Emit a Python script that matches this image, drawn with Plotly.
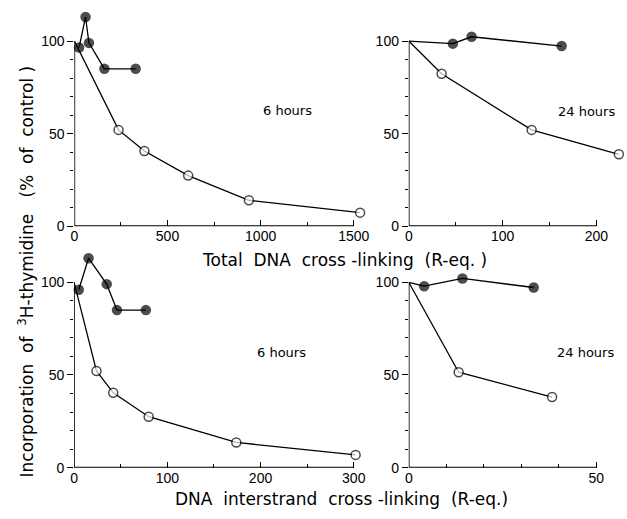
import plotly.graph_objects as go

# ---- data ----
# top-left: total cross-linking, 6 hours
tl_closed_x = [25, 60, 78, 161, 329]
tl_closed_y = [96.5, 113, 99, 85, 85]
tl_open_x = [0, 237, 376, 611, 937, 1534]
tl_open_y = [100, 52, 40.6, 27.3, 14, 7.3]
# top-right: total cross-linking, 24 hours
tr_closed_x = [0, 47, 67, 163]
tr_closed_y = [100, 98.6, 102.3, 97.3]
tr_open_x = [0, 35, 131, 224]
tr_open_y = [100, 82.3, 52, 38.8]
# bottom-left: interstrand cross-linking, 6 hours
bl_closed_x = [5, 15.5, 35, 46, 77]
bl_closed_y = [96, 113, 99, 85, 85]
bl_open_x = [0, 24, 42, 80, 174, 302]
bl_open_y = [100, 52.2, 40.4, 27.5, 13.6, 6.9]
# bottom-right: interstrand cross-linking, 24 hours
br_closed_x = [0, 4.1, 14.3, 33.3]
br_closed_y = [100, 97.9, 102.1, 97.2]
br_open_x = [0, 13.3, 38.2]
br_open_y = [100, 51.5, 38.1]

panel_labels = ["6 hours", "24 hours", "6 hours", "24 hours"]
x_major = [[0, 500, 1000, 1500], [0, 100, 200], [0, 100, 200, 300], [0, 50]]
x_minor = [[250, 750, 1250], [50, 150], [50, 150, 250], [10, 20, 30, 40]]
x_axis_end = [1500, 200, 300, 50]
y_major = [0, 50, 100]
y_minor = [10, 20, 30, 40, 60, 70, 80, 90]

S = "\u00a0"
xtitle_top = f"Total{S*2}DNA{S*2}cross{S}-linking{S*2}(R-eq.{S})"
xtitle_bot = f"DNA{S*2}interstrand{S*2}cross{S}-linking{S*2}(R-eq.)"
ytitle = (f"Incorporation{S*2}of{S*2}<sup>3</sup>H-thymidine"
          f"{S*3}(%{S*2}of{S*2}control{S})")

W, H = 627, 519
FONT = "Liberation Sans, Arial, sans-serif"
TFONT = "DejaVu Sans, sans-serif"

panels = [
    (tl_closed_x, tl_closed_y, tl_open_x, tl_open_y),
    (tr_closed_x, tr_closed_y, tr_open_x, tr_open_y),
    (bl_closed_x, bl_closed_y, bl_open_x, bl_open_y),
    (br_closed_x, br_closed_y, br_open_x, br_open_y),
]
xranges = [[0, 1560], [0, 228], [0, 310], [0, 55]]
xdomains = [[71.3 / W, 365.6 / W], [410 / W, 626.6 / W],
            [71.0 / W, 363.7 / W], [410 / W, 619 / W]]
ydomains = [[(H - 229.7) / H, (H - 11.6) / H], [(H - 229.7) / H, (H - 11.6) / H],
            [(H - 475) / H, (H - 256.6) / H], [(H - 475) / H, (H - 256.6) / H]]
label_pos = [(1142, 62.6), (190, 62), (223, 62.3), (47, 62)]

fig = go.Figure()
shapes = []
annotations = []
for i, (cx, cy, ox, oy) in enumerate(panels):
    n = i + 1
    xa = "x" if n == 1 else f"x{n}"
    ya = "y" if n == 1 else f"y{n}"
    osz = [0 if (ox[k] == 0) else 9 for k in range(len(ox))]
    csz = [0 if (cx[k] == 0) else 10.5 for k in range(len(cx))]
    fig.add_trace(go.Scatter(
        x=ox, y=oy, xaxis=xa, yaxis=ya, mode="lines+markers",
        line=dict(color="black", width=1.3),
        marker=dict(symbol="circle", size=osz, color="white",
                    line=dict(color="black", width=1.5)),
        cliponaxis=False, showlegend=False))
    fig.add_trace(go.Scatter(
        x=cx, y=cy, xaxis=xa, yaxis=ya, mode="lines+markers",
        line=dict(color="black", width=1.3),
        marker=dict(symbol="circle", size=csz, color="black",
                    line=dict(color="black", width=0)),
        cliponaxis=False, showlegend=False))
    xkey = "xaxis" if n == 1 else f"xaxis{n}"
    ykey = "yaxis" if n == 1 else f"yaxis{n}"
    fig.update_layout({
        xkey: dict(domain=xdomains[i], range=xranges[i], anchor=ya,
                   showgrid=False, zeroline=False, showline=False,
                   tickmode="array", tickvals=x_major[i],
                   ticks="inside", ticklen=6, tickwidth=1.3, tickcolor="black",
                   minor=dict(tickmode="array", tickvals=x_minor[i],
                              ticks="inside", ticklen=4, tickwidth=1.2,
                              tickcolor="black"),
                   tickfont=dict(family=FONT, size=14, color="black")),
        ykey: dict(domain=ydomains[i], range=[0, 116], anchor=xa,
                   showgrid=False, zeroline=False, showline=False,
                   tickmode="array", tickvals=y_major,
                   ticks="outside", ticklen=6, tickwidth=1.3, tickcolor="black",
                   minor=dict(tickmode="array", tickvals=y_minor,
                              ticks="outside", ticklen=3, tickwidth=1.2,
                              tickcolor="black"),
                   tickfont=dict(family=FONT, size=14, color="black")),
    })
    shapes.append(dict(type="line", xref=xa, yref=ya, x0=0, x1=x_axis_end[i],
                       y0=0, y1=0, line=dict(color="black", width=1.6)))
    shapes.append(dict(type="line", xref=xa, yref=ya, x0=0, x1=0,
                       y0=0, y1=100, line=dict(color="black", width=1.6)))
    annotations.append(dict(xref=xa, yref=ya, x=label_pos[i][0], y=label_pos[i][1],
                            text=panel_labels[i], showarrow=False,
                            xanchor="center", yanchor="middle",
                            font=dict(family=TFONT, size=13, color="black")))

annotations += [
    dict(xref="paper", yref="paper", x=345 / W, y=(H - 264) / H, text=xtitle_top,
         xanchor="center", yanchor="middle",
         showarrow=False, font=dict(family=TFONT, size=17, color="black")),
    dict(xref="paper", yref="paper", x=342 / W, y=(H - 507) / H, text=xtitle_bot,
         xanchor="center", yanchor="middle",
         showarrow=False, font=dict(family=TFONT, size=17, color="black")),
    dict(xref="paper", yref="paper", x=22 / W, y=(H - 276) / H, text=ytitle,
         xanchor="center", yanchor="middle",
         textangle=-90, showarrow=False,
         font=dict(family=TFONT, size=17, color="black")),
]

fig.update_layout(width=W, height=H, margin=dict(l=0, r=0, t=0, b=0),
                  paper_bgcolor="white", plot_bgcolor="white",
                  shapes=shapes, annotations=annotations)
fig.write_html("out.html")
